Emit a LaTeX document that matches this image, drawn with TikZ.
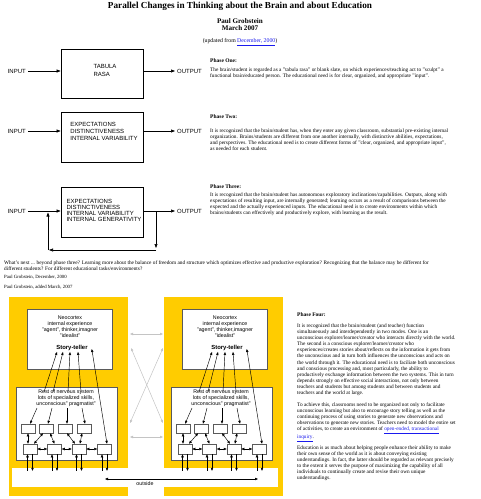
\documentclass[tikz,border=0pt]{standalone}
\usepackage{fontspec}
\setmainfont{Liberation Serif}
\setsansfont{Liberation Sans}
\usetikzlibrary{arrows.meta,positioning}
\definecolor{panelgold}{HTML}{FFCC00}
\definecolor{linkblue}{HTML}{1A1AEE}
\definecolor{boxgray}{HTML}{5A5A5A}
\definecolor{softlink}{HTML}{C4C4C4}
\newcommand{\weblink}[1]{\textcolor{linkblue}{\underline{#1}}}
\newcommand{\bodyfont}{\fontsize{5.3}{6.08}\selectfont}
\tikzset{
every picture/.style={line join=miter},
>={Triangle[length=4pt,width=3pt]},
title text/.style={font=\fontsize{9.2}{11}\selectfont\bfseries, inner sep=0pt},
author text/.style={font=\fontsize{7.1}{7}\selectfont\bfseries, align=center, inner sep=0pt},
note text/.style={font=\fontsize{5.8}{6}\selectfont, inner sep=0pt},
phase head/.style={font=\fontsize{5.5}{6}\selectfont\bfseries, anchor=west, inner sep=0pt},
phase para/.style={font=\bodyfont, align=left, anchor=north west, inner sep=0pt},
sign text/.style={font=\fontsize{4.8}{5}\selectfont, anchor=west, inner sep=0pt},
phase box/.style={draw=black, line width=0.7pt, minimum width=82pt, minimum height=50pt, inner sep=0pt},
box text/.style={font=\sffamily\fontsize{6}{7}\selectfont, align=left, inner sep=0pt},
io text/.style={font=\sffamily\fontsize{6}{7}\selectfont, inner sep=2pt},
flow/.style={->, line width=0.6pt},
gold panel/.style={fill=panelgold, minimum width=119pt, minimum height=199pt, inner sep=0pt},
outside band/.style={fill=white, minimum width=266pt, minimum height=19pt, inner sep=0pt},
cortex box/.style={draw=boxgray, fill=white, line width=0.7pt, inner sep=0pt},
cortex text/.style={font=\sffamily\fontsize{5.3}{5.9}\selectfont, align=center, inner sep=0pt},
story text/.style={font=\sffamily\bfseries\fontsize{5.9}{6}\selectfont, inner sep=1pt},
skill box/.style={draw=boxgray, fill=white, line width=0.5pt, minimum width=14pt, minimum height=9pt, inner sep=0pt},
tiny flow/.style={-{Triangle[length=3pt,width=2.4pt]}, line width=0.45pt},
tiny dflow/.style={{Triangle[length=3pt,width=2.4pt]}-{Triangle[length=3pt,width=2.4pt]}, line width=0.45pt},
soft flow/.style={{Triangle[length=3pt,width=2.4pt]}-{Triangle[length=3pt,width=2.4pt]}, draw=softlink, line width=0.5pt}
}
\begin{document}
\begin{tikzpicture}[x=1pt,y=-1pt]
\useasboundingbox (0,0) rectangle (481,499);
\fill[white] (0,0) rectangle (481,499);

% heading
\node[title text] (title) at (240,6.5) {Parallel Changes in Thinking about the Brain and about Education};
\node[author text] (author) at (240,24.5) {Paul Grobstein\\March 2007};
\node[note text] (updated) at (240,42) {(updated from \weblink{December, 2000})};

% phase one
\node[phase box, minimum height=49pt] (box1) at (102,73.5) {};
\node[box text, font=\sffamily\fontsize{6}{8}\selectfont] (box1txt) at (105,70) {TABULA\\RASA};
\node[io text, anchor=east] (in1) at (28,71) {INPUT};
\node[io text, anchor=west] (out1) at (175,71) {OUTPUT};
\draw[flow] (in1) -- (box1.west |- in1);
\draw[flow] (box1.east |- out1) -- (out1);
\node[phase head] (head1) at (210,61) {Phase One:};
\node[phase para] (para1) at (210,67.6) {The brain/student is regarded as a "tabula rasa" or blank slate, on which experiences/teaching act to "sculpt" a\\
functional brain/educated person. The educational need is for clear, organized, and appropriate "input".};

% phase two
\node[phase box] (box2) at (102,137) {};
\node[box text] (box2txt) at (104,131) {EXPECTATIONS\\DISTINCTIVENESS\\INTERNAL VARIABILITY};
\node[io text, anchor=east] (in2) at (28,131) {INPUT};
\node[io text, anchor=west] (out2) at (175,131) {OUTPUT};
\draw[flow] (in2) -- (box2.west |- in2);
\draw[flow] (box2.east |- out2) -- (out2);
\node[phase head] (head2) at (210,117) {Phase Two:};
\node[phase para] (para2) at (210,128.6) {It is recognized that the brain/student has, when they enter any given classroom, substantial pre-existing internal\\
organization. Brains/students are different from one another internally, with distinctive abilities, expectations,\\
and perspectives. The educational need is to create different forms of "clear, organized, and appropriate input",\\
as needed for each student.};

% phase three
\node[phase box] (box3) at (102,212) {};
\node[box text, font=\sffamily\fontsize{6}{6.2}\selectfont] (box3txt) at (104,210.5) {EXPECTATIONS\\DISTINCTIVENESS\\INTERNAL VARIABILITY\\INTERNAL GENERATIVITY};
\node[io text, anchor=east] (in3) at (28,211) {INPUT};
\node[io text, anchor=west] (out3) at (175,211) {OUTPUT};
\coordinate (fb-in) at (48,211);
\coordinate (fb-out) at (156,211);
\coordinate (fb-sw) at (48,250);
\coordinate (fb-se) at (156,250);
\draw[flow] (in3) -- (box3.west |- in3);
\draw[flow] (box3.east |- out3) -- (out3);
\draw[flow, shorten >=2pt] (fb-out) -- (fb-se);
\draw[flow, shorten >=1pt] (fb-se) -- (fb-sw);
\draw[flow, shorten >=1.5pt] (fb-sw) -- (fb-in);
\node[phase head] (head3) at (210,187) {Phase Three:};
\node[phase para] (para3) at (210,192.6) {It is recognized that the brain/student has autonomous exploratory inclinations/capabilities. Outputs, along with\\
expectations of resulting input, are internally generated; learning occurs as a result of comparisons between the\\
expected and the actually experienced inputs. The educational need is to create environments within which\\
brains/students can effectively and productively explore, with learning as the result.};

% beyond phase three
\node[phase para] (next) at (4,260.6) {What's next ... beyond phase three? Learning more about the balance of freedom and structure which optimizes effective and productive exploration? Recognizing that the balance may be different for\\
different students? For different educational tasks/environments?};
\node[sign text] (sign1) at (4,277) {Paul Grobstein, December, 2000};
\node[sign text] (sign2) at (4,287) {Paul Grobstein, added March, 2007};

% phase four: two panels
\foreach \p/\dx in {l/0,r/155} {
  \node[gold panel] (\p-panel) at (68.5+\dx,396.5) {};
}
\node[outside band] (band) at (145,477.5) {};

\foreach \p/\dx in {l/0,r/155} {
\begin{scope}[xshift=\dx pt]
\node[cortex box, minimum width=85pt, minimum height=60pt] (\p-neo) at (69.5,339) {};
\node[cortex text] (\p-neotxt) at (70,327) {Neocortex\\internal experience\\"agent", thinker,imagner\\"idealist"};
\node[story text] (\p-story) at (72,348) {Story-teller};
\node[cortex box, minimum width=101pt, minimum height=73pt] (\p-rest) at (66.5,423.5) {};
\node[cortex text] (\p-resttxt) at (66,398) {Rest of nervous system\\lots of specialized skills,\\unconscious" pragmatist"};
\foreach \n/\cx in {1/28,2/46,3/65,4/84}
  \node[skill box] (\p-t\n) at (\cx,428.5) {};
\foreach \n/\cx in {a/30,b/54.5,c/79,d/104.5}
  \node[skill box, minimum height=10pt] (\p-b\n) at (\cx,449) {};
% skills fed from the rest of the system
\foreach \n/\sx/\tx in {1/37/2,2/52/2,3/67/2,4/82/1} {
  \coordinate (\p-s\n) at (\sx,408);
  \draw[tiny flow] (\p-s\n) -- ([xshift=\tx pt]\p-t\n.north);
}
% up to the story-teller
\foreach \n/\ux/\tx in {1/44/-15,2/53/-9,3/68/-2,4/81/6} {
  \coordinate (\p-u\n) at (\ux,392);
  \draw[tiny flow] (\p-u\n) -- ([xshift=\tx pt]\p-story.south);
}
\draw[tiny dflow] ([xshift=3pt,yshift=-1pt]\p-story.east) -- ([xshift=2.5pt]\p-bd.north);
% between the two rows
\draw[tiny dflow] (\p-t1.south) -- (\p-t1.south |- \p-ba.north);
\draw[tiny dflow] ([xshift=4pt]\p-ba.north) -- ([xshift=-3pt]\p-t2.south);
\draw[tiny dflow] ([xshift=4pt]\p-t2.south) -- (\p-bb.north);
\draw[tiny dflow] ([xshift=2pt]\p-t3.south) -- ([xshift=-4pt]\p-bc.north);
\draw[tiny dflow] ([xshift=-2pt]\p-t4.south) -- ([xshift=1pt]\p-bc.north);
\draw[tiny dflow] (\p-ba) -- (\p-bb);
\draw[tiny dflow] (\p-bb) -- (\p-bc);
\draw[tiny dflow] (\p-bc) -- (\p-bd);
% to and from outside
\foreach \n in {a,b,c,d} {
  \draw[tiny flow] ([xshift=-2.5pt,yshift=-3pt]\p-b\n.south |- band.north) -- ([xshift=-2.5pt]\p-b\n.south);
  \draw[tiny flow] ([xshift=2.5pt]\p-b\n.south) -- ([xshift=2.5pt,yshift=-3pt]\p-b\n.south |- band.north);
}
\end{scope}
}

% links between the two panels
\coordinate (g-nw) at (131,348);
\coordinate (g-ne) at (163,348);
\coordinate (g-sw) at (130,423);
\coordinate (g-se) at (163,423);
\coordinate (g-tw) at (130,334);
\coordinate (g-te) at (163,334);
\coordinate (g-bw) at (130,437);
\coordinate (g-be) at (163,437);
\draw[soft flow] (g-tw) -- (g-te);
\draw[soft flow] (g-bw) -- (g-be);
\draw[soft flow] (g-nw) -- (g-se);
\draw[soft flow] (g-ne) -- (g-sw);

% outside
\coordinate (out-w) at (105,479);
\coordinate (out-e) at (258,479);
\draw[tiny dflow] (out-w) -- (out-e);
\node[cortex text] (outside) at (145,484) {outside};

% phase four text
\node[phase head] (head4) at (297,315) {Phase Four:};
\node[phase para] (para4a) at (297,323.6) {It is recognized that the brain/student (and teacher) function\\
simultaneously and interdependently in two modes. One is an\\
unconscious explorer/learner/creator who interacts directly with the world.\\
The second is a conscious explorer/learner/creator who\\
experiences/creates stories about/reflects on the information it gets from\\
the unconscious and in turn both influences the unconscious and acts on\\
the world through it. The educational need is to faciliate both unconscious\\
and conscious processing and, most particularly, the ability to\\
productively exchange information between the two systems. This in turn\\
depends strongly on effective social interactions, not only between\\
teachers and students but among students and between students and\\
teachers and the world at large.};
\node[phase para] (para4b) at (297,402.6) {To achieve this, classrooms need to be organized not only to facilitate\\
unconscious learning but also to encourage story telling as well as the\\
continuing process of using stories to generate new observations and\\
observations to generate new stories. Teachers need to model the entire set\\
of activities, to create an environment of \weblink{open-ended, transactional}\\
\weblink{inquiry}.};
\node[phase para] (para4c) at (297,445.2) {Education is as much about helping people enhance their ability to make\\
their own sense of the world as it is about conveying existing\\
understandings. In fact, the latter should be regarded as relevant precisely\\
to the extent it serves the purpose of maximizing the capability of all\\
individuals to continually create and revise their own unique\\
understandings.};
\end{tikzpicture}
\end{document}
